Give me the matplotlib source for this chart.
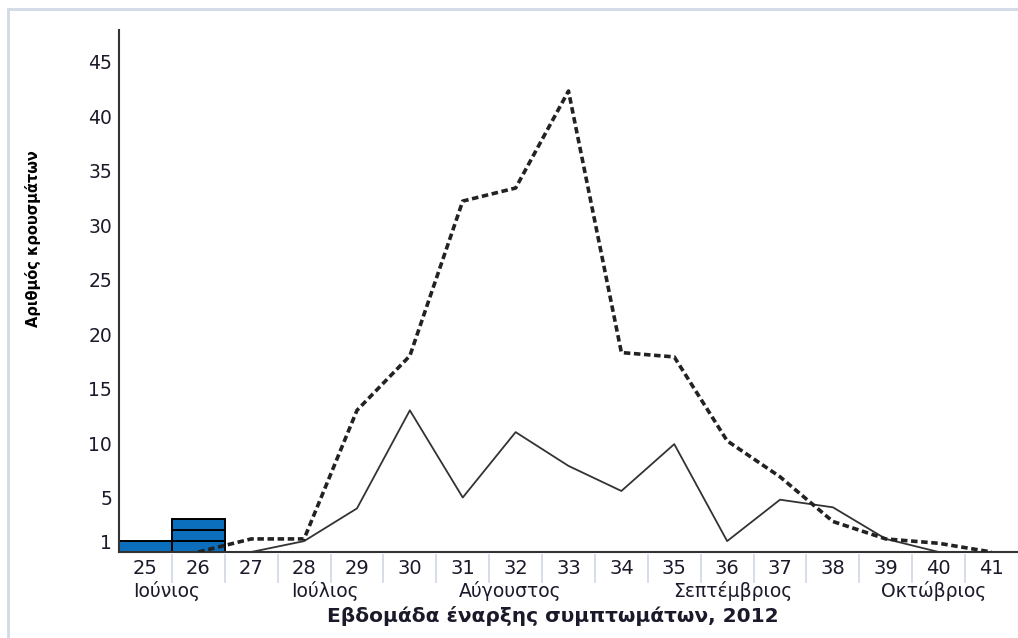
import matplotlib
matplotlib.use("Agg")
import matplotlib.pyplot as plt
from matplotlib.lines import Line2D

# ---- data ----
weeks = list(range(25, 42))
week_labels = [str(w) for w in weeks]
bar_weeks = [25, 26]
bar_counts = [1, 3]
solid_weeks = [27, 28, 29, 30, 31, 32, 33, 34, 35, 36, 37, 38, 39, 40]
solid_values = [0, 1, 4, 13, 5, 11, 7.9, 5.6, 9.9, 1, 4.8, 4.1, 1.2, 0]
dashed_weeks = [26, 27, 28, 29, 30, 31, 32, 33, 34, 35, 36, 37, 38, 39, 40, 41]
dashed_values = [0, 1.2, 1.2, 13, 18, 32.2, 33.4, 42.3, 18.3, 17.9, 10.2, 6.9, 2.8, 1.2, 0.8, 0]
y_ticks = [1, 5, 10, 15, 20, 25, 30, 35, 40, 45]
months = ["Ιούνιος", "Ιούλιος", "Αύγουστος", "Σεπτέμβριος", "Οκτώβριος"]
month_pos = [25.4, 28.4, 31.9, 36.1, 39.9]
x_title = "Εβδομάδα έναρξης συμπτωμάτων, 2012"
y_title = "Αριθμός κρουσμάτων"

plt.rcParams['font.family'] = ['DejaVu Sans']
TXT = "#1a1a2a"

fig = plt.figure(figsize=(10.18, 6.38), dpi=100)
ax = fig.add_axes([119 / 1018, 1 - 552 / 638, 1 - 119 / 1018, (552 - 30) / 638])

# bars as stacked unit boxes
for w, c in zip(bar_weeks, bar_counts):
    for i in range(c):
        ax.bar(w, 1, bottom=i, width=1.0, color="#0B6FBE", edgecolor="black",
               linewidth=1.4, zorder=2)

ax.plot(solid_weeks, solid_values, color="#333333", linewidth=1.3, zorder=3)
ax.plot(dashed_weeks, dashed_values, color="#222222", linewidth=2.6,
        dashes=(1.8, 1.0), zorder=4)

ax.set_xlim(24.5, 41.5)
ax.set_ylim(0, 47.9)
ax.spines['top'].set_visible(False)
ax.spines['right'].set_visible(False)
ax.spines['left'].set_color("#333333")
ax.spines['bottom'].set_color("#333333")
ax.spines['left'].set_linewidth(1.5)
ax.spines['bottom'].set_linewidth(1.5)

ax.set_yticks(y_ticks)
ax.set_yticklabels([str(t) for t in y_ticks], fontsize=13.5, color=TXT)
ax.set_xticks(weeks)
ax.set_xticklabels(week_labels, fontsize=14, color=TXT)
ax.tick_params(axis='both', length=0)
ax.tick_params(axis='y', pad=5)
ax.tick_params(axis='x', pad=5)

# separators between week labels
trans = ax.get_xaxis_transform()
for w in weeks[:-1]:
    ax.add_line(Line2D([w + 0.5, w + 0.5], [-0.005, -0.058], transform=trans,
                       color="#d3dae6", linewidth=1.3, clip_on=False))

# month labels
for m, p in zip(months, month_pos):
    ax.text(p, 1 - 591 / 638, m, transform=matplotlib.transforms.blended_transform_factory(
            ax.transData, fig.transFigure), ha="center", va="center",
            fontsize=13.5, color=TXT)

fig.text(553 / 1018, 1 - 616 / 638, x_title, ha="center", va="center",
         fontsize=14.5, fontweight="bold", color=TXT)
fig.text(33 / 1018, 1 - 239 / 638, y_title, rotation=90, ha="center",
         va="center", fontsize=10.5, fontweight="bold", color="black")

# outer frame (left and top)
fig.add_artist(Line2D([8 / 1018, 8 / 1018], [0, 1 - 9 / 638], transform=fig.transFigure,
                      color="#d3d9e6", linewidth=2))
fig.add_artist(Line2D([8 / 1018, 1], [1 - 9 / 638, 1 - 9 / 638], transform=fig.transFigure,
                      color="#d3d9e6", linewidth=2))

fig.savefig("out.png", dpi=100)
